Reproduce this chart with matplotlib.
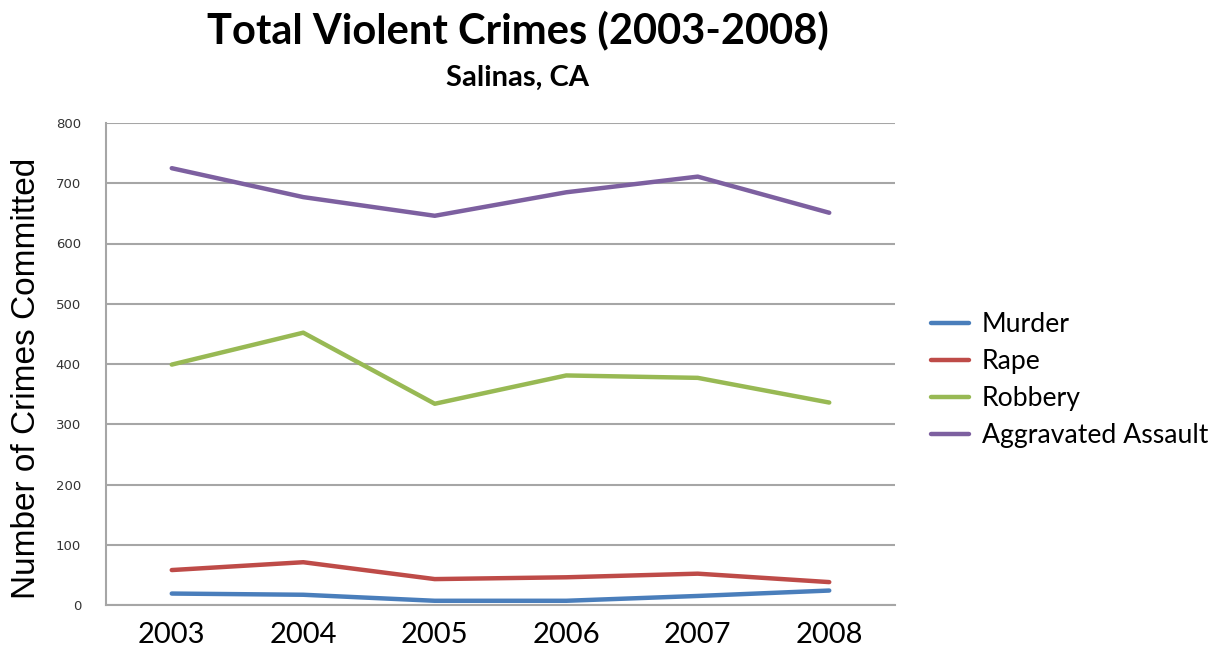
import matplotlib
matplotlib.use("Agg")
import matplotlib.pyplot as plt

# data
years = ["2003", "2004", "2005", "2006", "2007", "2008"]
murder = [19, 17, 7, 7, 15, 24]
rape = [58, 71, 43, 46, 52, 38]
robbery = [399, 452, 334, 381, 377, 336]
assault = [725, 677, 646, 685, 711, 651]

series_names = ["Murder", "Rape", "Robbery", "Aggravated Assault"]
series_vals = [murder, rape, robbery, assault]
series_colors = ["#4a7ebb", "#be4b48", "#98b954", "#7d60a0"]

fig = plt.figure(figsize=(12.28, 6.62), dpi=100)
ax = fig.add_axes([106 / 1228, 57 / 662, 789 / 1228, 482 / 662])

x = list(range(len(years)))
for name, vals, col in zip(series_names, series_vals, series_colors):
    ax.plot(x, vals, color=col, lw=3.2, label=name, solid_capstyle="round")

ax.set_xlim(-0.5, len(years) - 0.5)
ax.set_ylim(0, 800)
ax.set_yticks(range(0, 801, 100))
ax.set_xticks(x)
ax.set_xticklabels(years, fontsize=21, family="Lato")
ax.tick_params(axis="x", length=0, pad=12)
ax.tick_params(axis="y", length=0, pad=18, labelsize=9.5, labelcolor="#333333")
ax.grid(axis="y", color="#a6a6a6", lw=1.5)
ax.set_axisbelow(True)
for side in ["top", "right"]:
    ax.spines[side].set_visible(False)
for side in ["left", "bottom"]:
    ax.spines[side].set_color("#a6a6a6")
    ax.spines[side].set_linewidth(1.5)

fig.text(518 / 1228, 1 - 30 / 662, "Total Violent Crimes (2003-2008)",
         ha="center", va="center", fontsize=30, fontweight="bold", family="Lato")
fig.text(518 / 1228, 1 - 78 / 662, "Salinas, CA",
         ha="center", va="center", fontsize=21, fontweight="bold", family="Lato")
fig.text(27 / 1228, 1 - 378 / 662, "Number of Crimes Committed", rotation=90,
         ha="center", va="center", fontsize=24, family="Liberation Sans")

fig.legend(loc="center left", bbox_to_anchor=(918 / 1228, 1 - 380 / 662),
           frameon=False, prop={"family": "Lato", "size": 19.2},
           handlelength=1.4, handletextpad=0.5, labelspacing=0.45,
           borderpad=0)

fig.savefig("out.png", dpi=100, facecolor="white")
